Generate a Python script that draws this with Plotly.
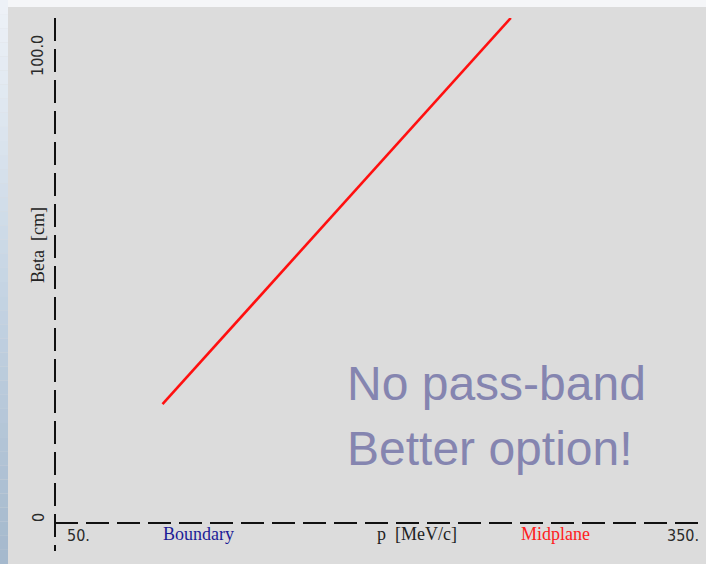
import plotly.graph_objects as go

# Beta function vs. momentum
p_mev = [100, 140, 180, 220, 262]
beta_cm = [25.4, 46.0, 66.5, 87.0, 108.6]

x_range = [50, 350]
y_range = [0, 108.6]
x_tick_labels = ["50.", "350."]
y_tick_labels = ["0", "100.0"]

W, H = 706, 564
L, R, T, B = 55, 6, 18, 42
PW, PH = W - L - R, H - T - B


def px_x(xp):
    return (xp - L) / PW


def px_y(yp):
    return (H - B - yp) / PH


BG = "#dcdcdc"
SERIF = "Liberation Serif, Times New Roman, serif"
NARROW = "Liberation Sans Narrow, DejaVu Sans Condensed, Arial Narrow, sans-serif"

fig = go.Figure()
fig.add_trace(go.Scatter(
    x=p_mev, y=beta_cm, mode="lines",
    line=dict(color="#ff1010", width=2.6),
    hoverinfo="skip", showlegend=False,
))

shapes = []
# slide frame: light top band and gradient strip on the left
shapes.append(dict(type="rect", xref="paper", yref="paper",
                   x0=px_x(0), x1=px_x(W), y0=px_y(7), y1=px_y(0),
                   fillcolor="#f5f6f8", line=dict(width=0), layer="below"))
stops = [(0.0, (238, 242, 247)), (0.5, (198, 213, 228)), (1.0, (164, 184, 204))]


def grad(t):
    for (t0, c0), (t1, c1) in zip(stops[:-1], stops[1:]):
        if t <= t1:
            f = (t - t0) / (t1 - t0)
            return "rgb(%d,%d,%d)" % tuple(round(a + (b - a) * f) for a, b in zip(c0, c1))
    return "rgb(%d,%d,%d)" % stops[-1][1]


n = 40
for i in range(n):
    y0p = i * H / n
    y1p = (i + 1) * H / n
    shapes.append(dict(type="rect", xref="paper", yref="paper",
                       x0=px_x(0), x1=px_x(8), y0=px_y(y1p), y1=px_y(y0p),
                       fillcolor=grad((i + 0.5) / n), line=dict(width=0), layer="below"))

# dashed axes
shapes.append(dict(type="line", xref="paper", yref="paper",
                   x0=0, x1=1, y0=px_y(523), y1=px_y(523),
                   line=dict(color="#111111", width=2, dash="23px,8px")))
shapes.append(dict(type="line", xref="paper", yref="paper",
                   x0=0, x1=0, y0=1, y1=px_y(551),
                   line=dict(color="#111111", width=2, dash="23px,8px")))

TICK_FONT = dict(family=NARROW, size=16, color="#2a2a2a")
annotations = [
    dict(text=x_tick_labels[0], x=px_x(65), y=px_y(535), xref="paper", yref="paper",
         xanchor="left", yanchor="middle", showarrow=False, font=TICK_FONT),
    dict(text=x_tick_labels[1], x=px_x(701), y=px_y(535), xref="paper", yref="paper",
         xanchor="right", yanchor="middle", showarrow=False, font=TICK_FONT),
    dict(text=y_tick_labels[0], x=px_x(38), y=px_y(518), xref="paper", yref="paper",
         xanchor="center", yanchor="middle", showarrow=False, textangle=-90,
         font=TICK_FONT),
    dict(text=y_tick_labels[1], x=px_x(38), y=px_y(56), xref="paper", yref="paper",
         xanchor="center", yanchor="middle", showarrow=False, textangle=-90,
         font=TICK_FONT),
    dict(text="Beta  [cm]", x=px_x(38), y=px_y(245), xref="paper", yref="paper",
         xanchor="center", yanchor="middle", showarrow=False, textangle=-90,
         font=dict(family=SERIF, size=18, color="#222222")),
    dict(text="Boundary", x=px_x(161), y=px_y(534), xref="paper", yref="paper",
         xanchor="left", yanchor="middle", showarrow=False,
         font=dict(family=SERIF, size=18, color="#1c1c96")),
    dict(text="p  [MeV/c]", x=px_x(375), y=px_y(534), xref="paper", yref="paper",
         xanchor="left", yanchor="middle", showarrow=False,
         font=dict(family=SERIF, size=18, color="#222222")),
    dict(text="Midplane", x=px_x(519), y=px_y(534), xref="paper", yref="paper",
         xanchor="left", yanchor="middle", showarrow=False,
         font=dict(family=SERIF, size=18, color="#ff2020")),
    dict(text="No pass-band", x=px_x(345), y=px_y(383), xref="paper", yref="paper",
         xanchor="left", yanchor="middle", showarrow=False,
         font=dict(family="Liberation Sans, Arial, sans-serif", size=48, color="#8585b0")),
    dict(text="Better option!", x=px_x(345), y=px_y(448), xref="paper", yref="paper",
         xanchor="left", yanchor="middle", showarrow=False,
         font=dict(family="Liberation Sans, Arial, sans-serif", size=48, color="#8585b0")),
]

hidden = dict(showgrid=False, zeroline=False, showticklabels=False,
              showline=False, ticks="", fixedrange=True)

fig.update_layout(
    width=W, height=H,
    margin=dict(l=L, r=R, t=T, b=B),
    paper_bgcolor=BG, plot_bgcolor=BG,
    xaxis=dict(range=x_range, **hidden),
    yaxis=dict(range=y_range, **hidden),
    shapes=shapes,
    annotations=annotations,
    showlegend=False,
)

fig.write_html("out.html")
